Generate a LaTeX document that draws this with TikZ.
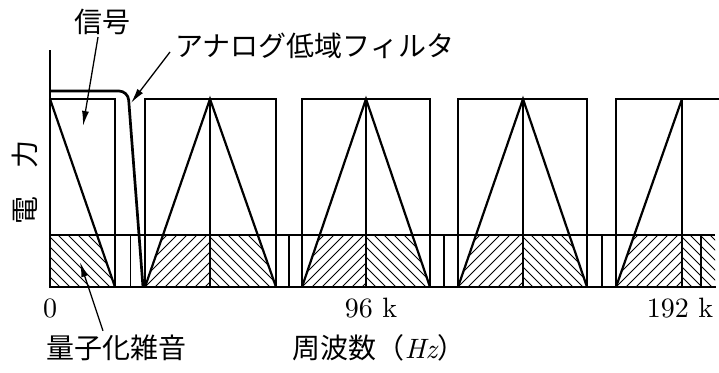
\documentclass[tikz,border=0pt]{standalone}
\usepackage{fontspec}
\newfontfamily\jpfont{Noto Sans CJK JP}
\newfontfamily\numfont[Extension=.otf]{lmroman10-regular}
\newfontfamily\numitfont[Extension=.otf]{lmroman10-italic}
\usetikzlibrary{arrows.meta}
\tikzset{
  outline/.style={line width=2pt, line join=miter},
  legline/.style={line width=2.2pt},
  midline/.style={line width=1.4pt},
  hatchline/.style={line width=0.9pt},
  filterline/.style={line width=2.7pt, rounded corners=9pt},
  jplabel/.style={font=\jpfont\fontsize{28}{30}\selectfont, inner sep=0pt},
  numlabel/.style={font=\numfont\fontsize{28}{30}\selectfont, inner sep=0pt},
  pointer/.style={line width=1.3pt, -{Latex[length=15pt,width=7pt]}}
}
\begin{document}
\begin{tikzpicture}[x=1pt,y=-1pt]
\useasboundingbox (0,0) rectangle (719,372);

% ---------- hatching ----------
% signal band (0 .. fs/2), backslash hatch
\begin{scope}
  \clip (50,235) -- (97,235) -- (115,287) -- (50,287) -- cycle;
  \foreach \i in {-2,...,14} \draw[hatchline] (40+\i*10,287) -- ++(-70,-70);
\end{scope}
% image lobes
\foreach \l/\c/\r in {145/210/276, 302/366/430, 458/523/587}{
  \begin{scope}
    \clip (\l,287) -- (\l+0.2766*\c-0.2766*\l,235) -- (\c,235) -- (\c,287) -- cycle;
    \foreach \i in {-8,...,10} \draw[hatchline] (\l+\i*10,287) -- ++(70,-70);
  \end{scope}
  \begin{scope}
    \clip (\c,235) -- (\r-0.2766*\r+0.2766*\c,235) -- (\r,287) -- (\c,287) -- cycle;
    \foreach \i in {-2,...,16} \draw[hatchline] (\c+\i*10,287) -- ++(-70,-70);
  \end{scope}
}
% last lobe (clipped at right)
\begin{scope}
  \clip (616,287) -- (634.3,235) -- (682,235) -- (682,287) -- cycle;
  \foreach \i in {-8,...,10} \draw[hatchline] (616+\i*10,287) -- ++(70,-70);
\end{scope}
\begin{scope}
  \clip (682,235) -- (715,235) -- (715,287) -- (682,287) -- cycle;
  \foreach \i in {-2,...,12} \draw[hatchline] (682+\i*10,287) -- ++(-70,-70);
\end{scope}

% ---------- noise band lines ----------
\draw[outline] (50,235) -- (715,235);
\foreach \g in {130.5, 289, 444, 602, 701} \draw[midline] (\g,235) -- (\g,287);

% ---------- signal spectrum ----------
\draw[outline] (50,99) -- (115,99) -- (115,287);
\draw[legline] (50,99) -- (115,287);

% ---------- images ----------
\foreach \l/\c/\r in {145/210/276, 302/366/430, 458/523/587}{
  \draw[outline] (\l,287) -- (\l,99) -- (\r,99) -- (\r,287);
  \draw[legline] (\l,287) -- (\c,99) -- (\r,287);
  \draw[midline] (\c,99) -- (\c,287);
}
\draw[outline] (616,287) -- (616,99) -- (719,99);
\draw[legline] (616,287) -- (682,99);
\draw[midline] (682,99) -- (682,287);

% ---------- axes ----------
\draw[outline] (50,50) -- (50,287) -- (716,287);

% ---------- analog low-pass filter ----------
\draw[filterline] (50,91) -- (128,91) -- (143,287);

% ---------- labels ----------
\node[jplabel] (sig) at (102,22) {信号};
\node[jplabel, anchor=west] (filt) at (175,46) {アナログ低域フィルタ};
\node[jplabel, rotate=90] (pow) at (25,182) {電　力};
\node[numlabel] (zero) at (50,308) {0};
\node[numlabel] (k96) at (371,308) {96 k};
\node[numlabel] (k192) at (680,308) {192 k};
\node[jplabel] (noise) at (116,348) {量子化雑音};
\node[jplabel] (freq) at (379,348) {周波数（{\numitfont Hz}）};

% ---------- pointers ----------
\coordinate (sigtip) at (83,126);
\coordinate (filttip) at (131,103);
\coordinate (noisetip) at (80,262);
\draw[pointer] ([xshift=-4pt,yshift=-2pt]sig.south) -- (sigtip);
\draw[pointer] ([xshift=-5pt,yshift=-6pt]filt.west) -- (filttip);
\draw[pointer] ([xshift=-13pt,yshift=4pt]noise.north) -- (noisetip);
\end{tikzpicture}
\end{document}
